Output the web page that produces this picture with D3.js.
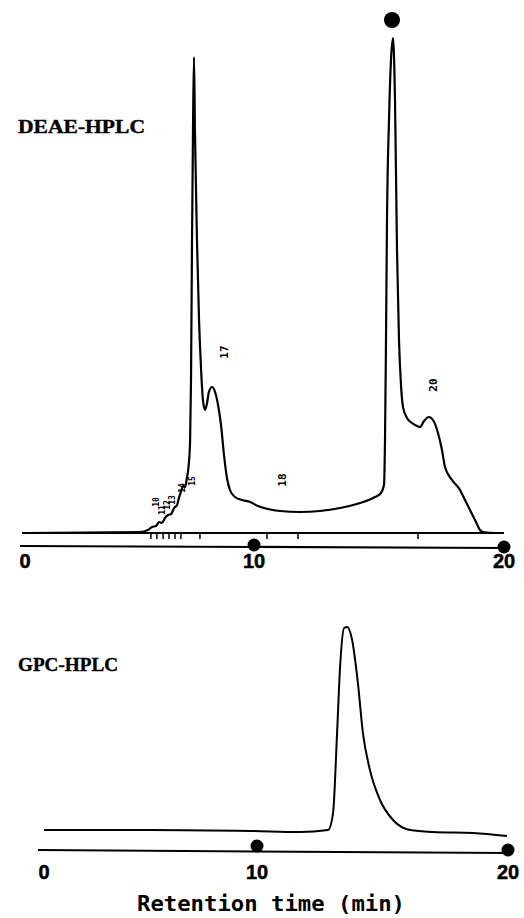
<!DOCTYPE html>
<html><head><meta charset="utf-8">
<script src="https://cdn.jsdelivr.net/npm/d3@7"></script>
<style>html,body{margin:0;padding:0;background:#fff;} svg{display:block;}</style>
</head><body>
<script>
// ---------- data ----------
const axisTicks = [0, 10, 20];
const axisMarkers = [10, 20];

// DEAE-HPLC chromatogram (retention time, min ; relative signal)
const deaeTime = [0, 5.02, 5.37, 5.55, 5.72, 5.85, 5.98, 6.11, 6.24, 6.38, 6.51, 6.64, 6.72, 6.81, 6.90, 6.99, 7.07, 7.16, 7.21, 7.25, 7.29, 7.34, 7.38, 7.42, 7.51, 7.60, 7.69, 7.77, 7.86, 7.95, 8.03, 8.17, 8.30, 8.43, 8.56, 8.69, 8.82, 8.95, 9.17, 9.48, 9.83, 10.16, 10.56, 11.04, 11.84, 12.64, 13.44, 14.24, 14.84, 15.08, 15.20, 15.24, 15.28, 15.32, 15.40, 15.48, 15.56, 15.64, 15.72, 15.80, 15.88, 15.96, 16.12, 16.32, 16.52, 16.64, 16.80, 17.00, 17.16, 17.36, 17.52, 17.64, 17.92, 18.24, 18.44, 18.64, 18.88, 19.04, 19.16, 19.64, 20.0];
const deaeSignal = [0, 0.2, 0.6, 1.2, 1.4, 2.2, 2.0, 3.0, 3.6, 3.8, 5.0, 5.6, 7.0, 8.2, 9.4, 9.2, 11.0, 14.2, 18.6, 30.6, 56.6, 82.6, 95.2, 80.6, 58.6, 42.6, 32.6, 26.6, 24.6, 26.0, 28.2, 29.2, 28.2, 25.6, 21.6, 15.6, 11.0, 8.6, 7.2, 6.6, 6.2, 5.4, 4.8, 4.4, 4.2, 4.4, 5.0, 6.0, 7.2, 8.0, 9.6, 18.6, 38.6, 62.6, 82.6, 94.6, 99.0, 86.6, 56.6, 38.6, 29.6, 25.2, 23.0, 22.0, 21.4, 21.2, 22.4, 23.2, 22.6, 20.0, 16.6, 13.2, 10.6, 8.6, 6.6, 4.6, 2.2, 0.6, 0.2, 0, 0];

// fraction cut marks on the DEAE baseline (min)
const fractionTicks = [5.50, 5.76, 6.03, 6.29, 6.55, 6.81, 7.64, 10.52, 11.76, 16.56];
const fractionLabels = ["10", "11", "12", "13", "14", "15", "17", "18", "20"];
const fractionLabelTime = [5.72, 5.98, 6.20, 6.42, 6.86, 7.29, 8.69, 11.12, 17.16];
const fractionLabelLevel = [6.2, 4.6, 5.6, 6.6, 9.0, 10.4, 36.2, 10.6, 29.6];
const peakMarkerTime = [15.52];

// GPC-HPLC chromatogram
const gpcTime = [0, 4.98, 9.72, 11.71, 12.83, 13.03, 13.19, 13.31, 13.47, 13.59, 13.79, 14.02, 14.22, 14.50, 14.90, 15.42, 16.10, 17.02, 18.61, 19.96];
const gpcSignal = [0.5, 0.5, 0, -0.5, 0.5, 8.8, 48, 80.4, 99.5, 100, 93.6, 72.5, 48, 29.9, 15.2, 5.4, 0.5, -0.5, -1, -2.5];

// ---------- drawing ----------
const W = 524, H = 918;
const svg = d3.select("body").append("svg").attr("width", W).attr("height", H)
  .style("background", "#fff");

const xTop = d3.scaleLinear().domain([0, 10, 20]).range([25, 254, 504]);
const yTop = d3.scaleLinear().domain([0, 100]).range([533, 33]);
const xBot = d3.scaleLinear().domain([0, 10, 20]).range([44, 257, 508]);
const yBot = d3.scaleLinear().domain([0, 100]).range([831, 627]);

const tickFont = "'Liberation Sans Narrow','Arial Narrow','Liberation Sans',Arial,sans-serif";
const titleFont = "'Liberation Serif','Times New Roman',serif";

// titles
svg.append("text").attr("x", 18).attr("y", 133).text("DEAE-HPLC")
  .attr("font-family", titleFont).attr("font-weight", "bold").attr("font-size", 19)
  .attr("stroke", "#000").attr("stroke-width", 0.4)
  .attr("textLength", 127).attr("lengthAdjust", "spacingAndGlyphs");
svg.append("text").attr("x", 18).attr("y", 671).text("GPC-HPLC")
  .attr("font-family", titleFont).attr("font-weight", "bold").attr("font-size", 19)
  .attr("stroke", "#000").attr("stroke-width", 0.4)
  .attr("textLength", 100).attr("lengthAdjust", "spacingAndGlyphs");

// ---- top panel ----
const gT = svg.append("g");
// baseline with fraction ticks
gT.append("line").attr("x1", 22).attr("x2", xTop(20)).attr("y1", yTop(0)).attr("y2", yTop(0))
  .attr("stroke", "#000").attr("stroke-width", 2);
gT.selectAll("line.ft").data(fractionTicks).join("line").attr("class", "ft")
  .attr("x1", d => xTop(d)).attr("x2", d => xTop(d))
  .attr("y1", yTop(0)).attr("y2", yTop(0) + 6)
  .attr("stroke", "#000").attr("stroke-width", 1.5);
// trace
const deaeData = deaeTime.map((t, i) => [t, deaeSignal[i]]);
gT.append("path").datum(deaeData)
  .attr("d", d3.line().x(d => xTop(d[0])).y(d => yTop(d[1])).curve(d3.curveMonotoneX))
  .attr("fill", "none").attr("stroke", "#000").attr("stroke-width", 2.2);
// axis line
gT.append("line").attr("x1", 20).attr("x2", xTop(20)).attr("y1", 546).attr("y2", 548)
  .attr("stroke", "#000").attr("stroke-width", 2.2);
gT.selectAll("circle.am").data(axisMarkers).join("circle").attr("class", "am")
  .attr("cx", d => xTop(d)).attr("cy", d => 545 + (d - 10) * 0.2).attr("r", 6.5).attr("fill", "#000");
gT.selectAll("text.tl").data(axisTicks).join("text").attr("class", "tl")
  .attr("x", d => xTop(d)).attr("y", 568).attr("text-anchor", "middle")
  .attr("font-family", tickFont).attr("font-weight", "bold").attr("font-size", 20)
  .attr("stroke", "#000").attr("stroke-width", 0.5)
  .text(d => d);
// peak marker
gT.selectAll("circle.pm").data(peakMarkerTime).join("circle").attr("class", "pm")
  .attr("cx", d => xTop(d)).attr("cy", 20).attr("r", 8).attr("fill", "#000");
// fraction labels
gT.selectAll("text.fl").data(fractionLabels).join("text").attr("class", "fl")
  .attr("transform", (d, i) => `translate(${xTop(fractionLabelTime[i])},${yTop(fractionLabelLevel[i])}) rotate(-90)`)
  .attr("text-anchor", "middle").attr("dy", "0.35em")
  .attr("font-family", "'DejaVu Sans Mono',monospace").attr("font-weight", "bold")
  .attr("font-size", (d, i) => i < 6 ? 8 : 11)
  .text(d => d);

// ---- bottom panel ----
const gB = svg.append("g");
const gpcData = gpcTime.map((t, i) => [t, gpcSignal[i]]);
gB.append("path").datum(gpcData)
  .attr("d", d3.line().x(d => xBot(d[0])).y(d => yBot(d[1])).curve(d3.curveMonotoneX))
  .attr("fill", "none").attr("stroke", "#000").attr("stroke-width", 2);
gB.append("line").attr("x1", 38).attr("x2", xBot(20)).attr("y1", 850).attr("y2", 853)
  .attr("stroke", "#000").attr("stroke-width", 2);
gB.selectAll("circle.am").data(axisMarkers).join("circle").attr("class", "am")
  .attr("cx", d => xBot(d)).attr("cy", d => 846 + (d - 10) * 0.4).attr("r", 6.5).attr("fill", "#000");
gB.selectAll("text.tl").data(axisTicks).join("text").attr("class", "tl")
  .attr("x", d => xBot(d)).attr("y", 879).attr("text-anchor", "middle")
  .attr("font-family", tickFont).attr("font-weight", "bold").attr("font-size", 20)
  .attr("stroke", "#000").attr("stroke-width", 0.5)
  .text(d => d);
svg.append("text").attr("x", 271).attr("y", 911).attr("text-anchor", "middle")
  .attr("font-family", "'DejaVu Sans Mono',monospace").attr("font-weight", "bold").attr("font-size", 21)
  .attr("textLength", 268).attr("lengthAdjust", "spacingAndGlyphs")
  .text("Retention time (min)");
</script>
</body></html>
